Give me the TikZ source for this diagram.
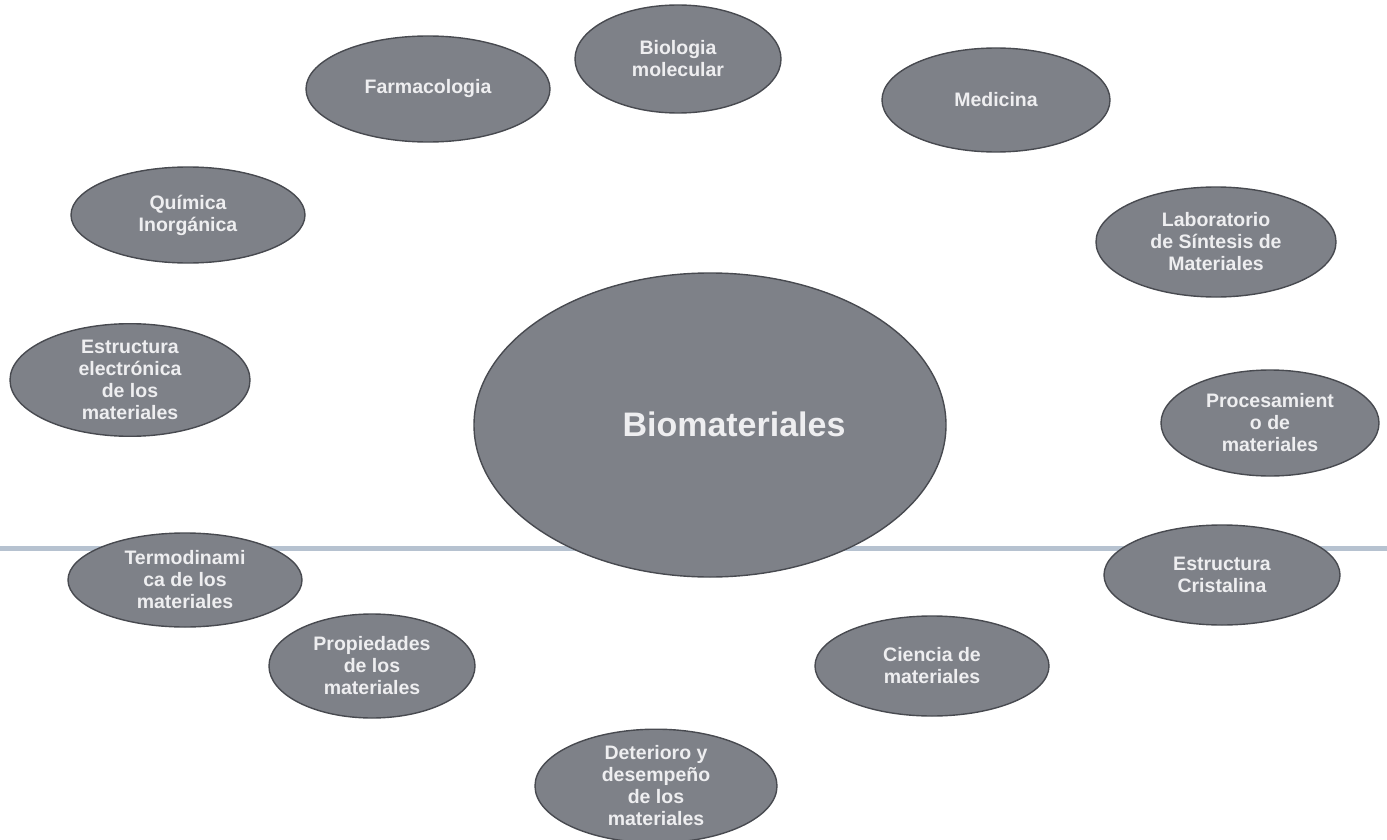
\documentclass[tikz,border=0pt]{standalone}
\usepackage{fontspec}
\setmainfont{Liberation Sans}
\usetikzlibrary{shapes.geometric}
\definecolor{ovalfill}{RGB}{126,129,136}
\definecolor{ovaldraw}{RGB}{72,74,80}
\definecolor{ovaltext}{RGB}{238,238,240}
\definecolor{rule}{RGB}{182,194,208}
\tikzset{
  oval/.style={ellipse, fill=ovalfill, draw=ovaldraw, line width=1.4pt, inner sep=0pt,
    text=ovaltext, align=center, font=\bfseries\fontsize{19.5}{22}\selectfont},
  bigtext/.style={text=ovaltext, font=\bfseries\fontsize{34}{40}\selectfont},
  rulestyle/.style={line width=5pt, draw=rule}
}
\begin{document}
\begin{tikzpicture}[x=1pt,y=-1pt]
\useasboundingbox[fill=white] (0,0) rectangle (1387,840);
\coordinate (ruleL) at (0,548);
\coordinate (ruleR) at (1387,548);
\draw[rulestyle] (ruleL) -- (ruleR);
\node[oval, minimum width=244pt, minimum height=106pt] (farm) at (428,89) {Farmacologia};
\node[oval, minimum width=206pt, minimum height=108pt] (biol) at (678,59) {Biologia\\molecular};
\node[oval, minimum width=228pt, minimum height=104pt] (med) at (996,100) {Medicina};
\node[oval, minimum width=234pt, minimum height=96pt] (quim) at (188,215) {Química\\Inorgánica};
\node[oval, minimum width=240pt, minimum height=110pt] (lab) at (1216,242) {Laboratorio\\de Síntesis de\\Materiales};
\node[oval, minimum width=240pt, minimum height=102pt] (estel) at (130,380) {Estructura\\electrónica\\de los\\materiales};
\node[oval, minimum width=472pt, minimum height=304pt] (bioc) at (710,425) {};
\node[bigtext] (bioct) at (734,424) {Biomateriales};
\node[oval, minimum width=218pt, minimum height=106pt] (proc) at (1270,423) {Procesamient\\o de\\materiales};
\node[oval, minimum width=234pt, minimum height=94pt] (termo) at (185,580) {Termodinami\\ca de los\\materiales};
\node[oval, minimum width=236pt, minimum height=100pt] (crist) at (1222,575) {Estructura\\Cristalina};
\node[oval, minimum width=206pt, minimum height=104pt] (prop) at (372,666) {Propiedades\\de los\\materiales};
\node[oval, minimum width=234pt, minimum height=100pt] (cien) at (932,666) {Ciencia de\\materiales};
\node[oval, minimum width=242pt, minimum height=112pt] (det) at (656,786) {Deterioro y\\desempeño\\de los\\materiales};
\end{tikzpicture}
\end{document}
